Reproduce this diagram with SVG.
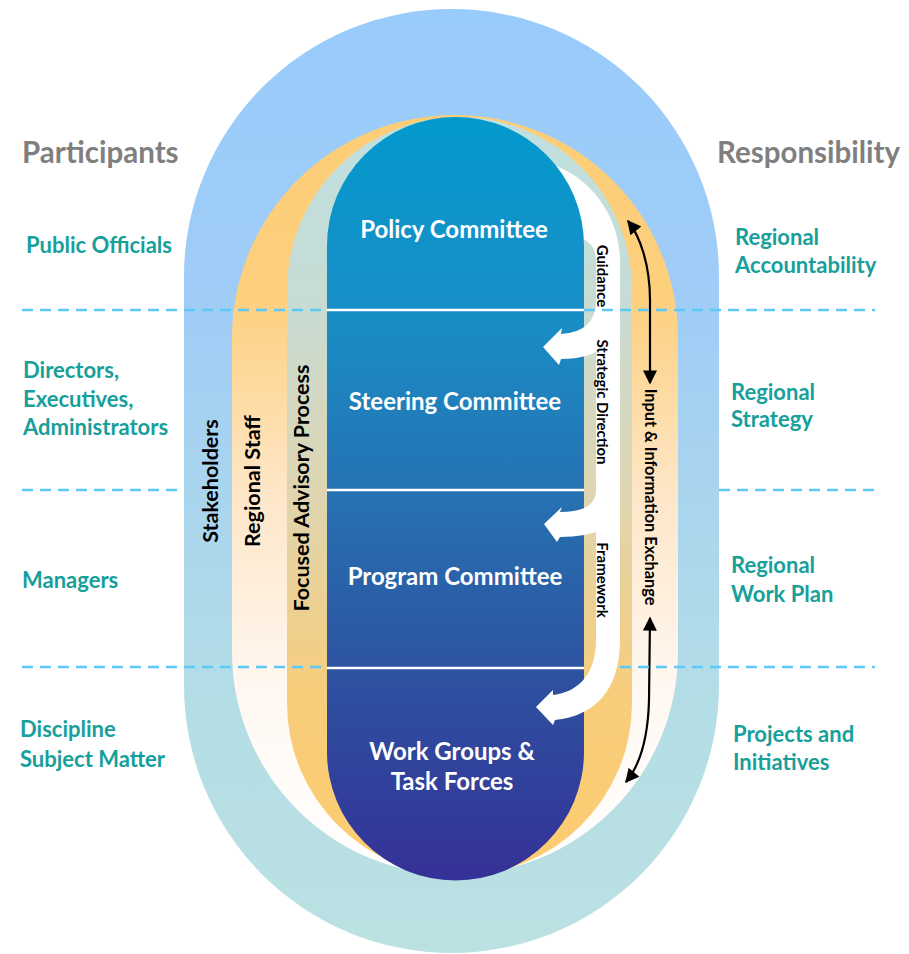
<svg xmlns="http://www.w3.org/2000/svg" width="909" height="954" viewBox="0 0 909 954">
<defs>
<style>
text{font-family:Lato,"Liberation Sans",sans-serif;font-weight:700}
.hdr{fill:#7f7f7f;font-size:29.5px}
.tl{fill:#17a09b;font-size:22px}
.wt{fill:#fff;font-size:24px;text-anchor:middle}
.bk{fill:#000;font-size:21.5px;text-anchor:middle}
.sm{fill:#000;font-size:15px;text-anchor:middle}
.io{fill:#000;font-size:16.3px;text-anchor:middle}
.dash{stroke:#5ec8f7;stroke-width:2.5;stroke-dasharray:11 7;fill:none}
.sep{stroke:#fff;stroke-width:2.5;fill:none}
.wa{fill:#fff}
.bl{stroke:#000;stroke-width:2.2;fill:none;marker-start:url(#ah);marker-end:url(#ah)}
</style>
<linearGradient id="gOuter" x1="0" y1="9" x2="0" y2="953" gradientUnits="userSpaceOnUse">
<stop offset="0" stop-color="#99cbfb"/>
<stop offset="0.32" stop-color="#a0cdf6"/>
<stop offset="0.72" stop-color="#b3dde6"/>
<stop offset="1" stop-color="#bbe1e2"/>
</linearGradient>
<linearGradient id="gStaff" x1="0" y1="115" x2="0" y2="875" gradientUnits="userSpaceOnUse">
<stop offset="0" stop-color="#fdcd76"/>
<stop offset="0.24" stop-color="#fdd07e"/>
<stop offset="0.5" stop-color="#fee6c8"/>
<stop offset="0.76" stop-color="#fff8f2"/>
<stop offset="1" stop-color="#ffffff"/>
</linearGradient>
<linearGradient id="gFocus" x1="0" y1="117" x2="0" y2="876" gradientUnits="userSpaceOnUse">
<stop offset="0" stop-color="#bfe0e0"/>
<stop offset="0.24" stop-color="#c7dcd5"/>
<stop offset="0.5" stop-color="#dfd5b0"/>
<stop offset="0.755" stop-color="#f7cd7c"/>
<stop offset="1" stop-color="#fdcc6e"/>
</linearGradient>
<linearGradient id="gBlue" x1="0" y1="117" x2="0" y2="880" gradientUnits="userSpaceOnUse">
<stop offset="0" stop-color="#0399cd"/>
<stop offset="0.25" stop-color="#188fc6"/>
<stop offset="0.49" stop-color="#2672b3"/>
<stop offset="0.73" stop-color="#2d52a0"/>
<stop offset="1" stop-color="#353197"/>
</linearGradient>
<marker id="ah" viewBox="0 0 10 10" refX="9" refY="5" markerWidth="15" markerHeight="14" markerUnits="userSpaceOnUse" orient="auto-start-reverse">
<path d="M0,0 L10,5 L0,10 z" fill="#000"/>
</marker>
</defs>

<g id="stakeholders">
<path d="M184,276.5 A267.5,267.5 0 0 1 719,276.5 L719,685.5 A267.5,267.5 0 0 1 184,685.5 Z" fill="url(#gOuter)"/>
</g>
<g id="regional-staff">
<path d="M232,338 A223,223 0 0 1 678,338 L678,652 A223,223 0 0 1 232,652 Z" fill="url(#gStaff)"/>
</g>
<g id="focused-advisory">
<path d="M287,289.5 A172.5,172.5 0 0 1 632,289.5 L632,703 A172.5,172.5 0 0 1 287,703 Z" fill="url(#gFocus)"/>
</g>
<path class="wa" d="M556,166 C588,178 618,212 620,258 L620,330 L596,330 L596,262 C596,250 592,242 578,236 Z"/>
<g id="committees">
<path d="M327,245.5 A128.5,128.5 0 0 1 584,245.5 L584,752 A128.5,128.5 0 0 1 327,752 Z" fill="url(#gBlue)"/>
<path class="sep" d="M327,310 H584 M327,490 H584 M327,668 H584"/>
</g>

<g id="connectors">
<path class="wa" d="M596,255 L620,255 L620,305 Q620,359 561,359 L559,365 L543,347 L562,328 L561,334 Q596,332 596,300 Z"/>
<path class="wa" d="M596,320 L620,320 L620,500 Q620,537 560,537 L557,542 L544,524 L562,507 L560,512 Q596,512 596,490 Z"/>
<path class="wa" d="M596,500 L620,500 L620,640 C620,690 595,716 555,720 L553,725 L536,707 L553,690 L553,695 C580,692 596,672 596,640 Z"/>
<path class="bl" d="M628,221 C640,236 650,265 650,300 L650,383"/>
<path class="bl" d="M650,618 L649,700 C648,740 640,765 626,782"/>
</g>

<g id="dividers">
<path class="dash" d="M22,310 H327 M22,490 H184 M22,667 H327"/>
<path class="dash" d="M584,310 H875 M719,490 H875 M620,667 H875"/>
</g>

<g id="flow-labels">
<text class="sm" transform="translate(597,276) rotate(90)">Guidance</text>
<text class="sm" transform="translate(597,402) rotate(90)">Strategic Direction</text>
<text class="sm" transform="translate(597,580) rotate(90)">Framework</text>
<text class="io" transform="translate(645,497) rotate(90)">Input &amp; Information Exchange</text>
</g>

<g id="band-labels">
<text class="bk" transform="translate(218,481) rotate(-90)">Stakeholders</text>
<text class="bk" transform="translate(260,481) rotate(-90)">Regional Staff</text>
<text class="bk" transform="translate(309,488) rotate(-90)">Focused Advisory Process</text>
</g>

<g id="policy-committee"><text class="wt" x="454" y="238">Policy Committee</text></g>
<g id="steering-committee"><text class="wt" x="455" y="410">Steering Committee</text></g>
<g id="program-committee"><text class="wt" x="455" y="585">Program Committee</text></g>
<g id="work-groups"><text class="wt" x="452" y="760">Work Groups &amp;</text><text class="wt" x="452" y="790">Task Forces</text></g>

<g id="participants">
<text class="hdr" x="22" y="163">Participants</text>
<text class="tl" x="26" y="253">Public Officials</text>
<text class="tl" x="23" y="378">Directors,</text>
<text class="tl" x="23" y="407">Executives,</text>
<text class="tl" x="23" y="435">Administrators</text>
<text class="tl" x="22" y="588">Managers</text>
<text class="tl" x="20" y="737">Discipline</text>
<text class="tl" x="20" y="767">Subject Matter</text>
</g>
<g id="responsibility">
<text class="hdr" x="717" y="163">Responsibility</text>
<text class="tl" x="735" y="245">Regional</text>
<text class="tl" x="735" y="273">Accountability</text>
<text class="tl" x="731" y="400">Regional</text>
<text class="tl" x="731" y="427">Strategy</text>
<text class="tl" x="731" y="573">Regional</text>
<text class="tl" x="731" y="602">Work Plan</text>
<text class="tl" x="733" y="742">Projects and</text>
<text class="tl" x="733" y="770">Initiatives</text>
</g>
</svg>
